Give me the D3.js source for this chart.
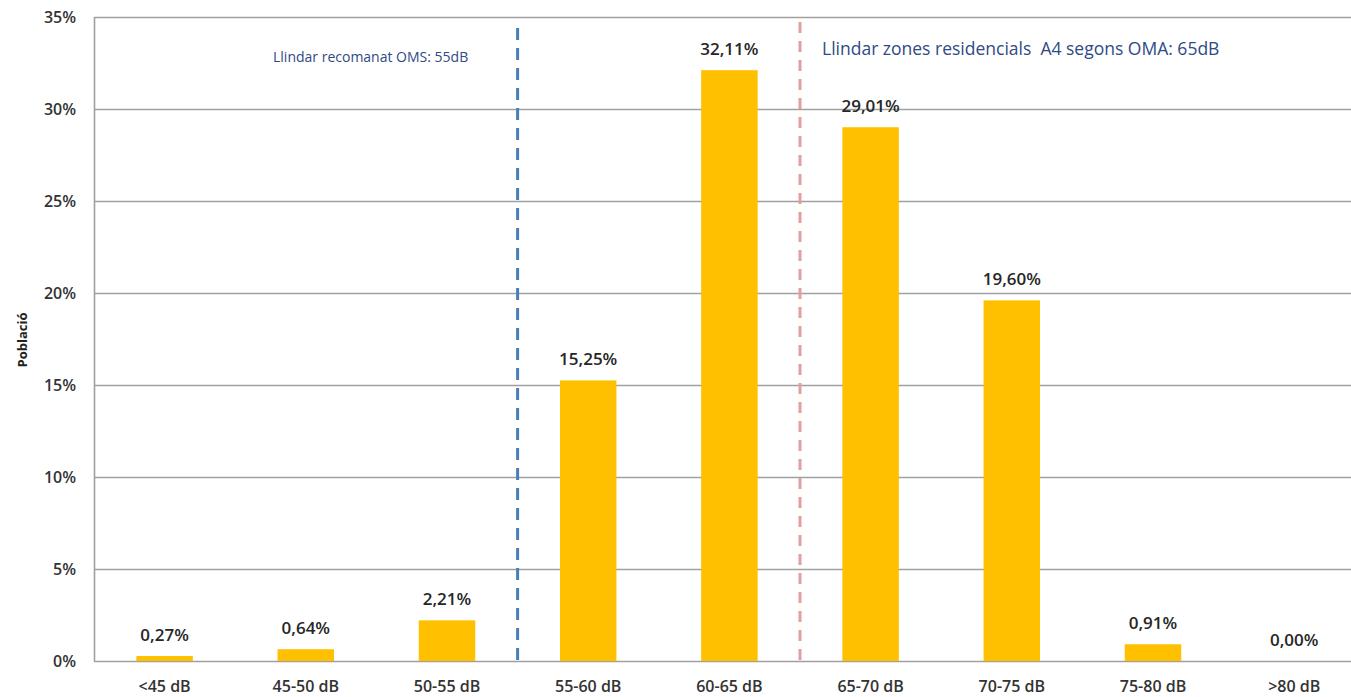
<!DOCTYPE html>
<html>
<head>
<meta charset="utf-8">
<script src="https://cdn.jsdelivr.net/npm/d3@7"></script>
<style>
  body { margin: 0; background: #fff; }
  svg { display: block; font-family: "Open Sans", "Liberation Sans", sans-serif; }
</style>
</head>
<body>
<svg id="svg" width="1351" height="697"></svg>
<script>
// categories and values (% of population)
var categories = ["<45 dB", "45-50 dB", "50-55 dB", "55-60 dB", "60-65 dB", "65-70 dB", "70-75 dB", "75-80 dB", ">80 dB"];
var values = [0.27, 0.64, 2.21, 15.25, 32.11, 29.01, 19.60, 0.91, 0.00];
var yTicks = [0, 5, 10, 15, 20, 25, 30, 35];
var thresholds = [
  { after: "50-55 dB", color: "#4a7ebb", text: "Llindar recomanat OMS: 55dB", size: 14, tx: 273, ty: 62, top: 28, dash: "12,8" },
  { after: "60-65 dB", color: "#e0a0a0", text: "Llindar zones residencials  A4 segons OMA: 65dB", size: 17.5, tx: 822, ty: 55, top: 22, dash: "11,8" }
];

var svg = d3.select('#svg');
var padding = { top: 17, left: 94, bottom: 36 };
var step = 141.2;
var chartArea = {
  width: step * categories.length,
  height: 697 - padding.top - padding.bottom
};

var xScale = d3.scaleBand()
  .domain(categories)
  .range([0, chartArea.width])
  .paddingInner(0.6)
  .paddingOuter(0.3);

var yScale = d3.scaleLinear()
  .domain([0, 35])
  .range([chartArea.height, 0]);

var g = svg.append("g")
  .attr('transform', 'translate(' + padding.left + ',' + padding.top + ')');

// gridlines
g.append("g").selectAll("line").data(yTicks).enter()
  .append("line")
  .attr("x1", 0)
  .attr("x2", 1351)
  .attr("y1", function(d) { return Math.round(yScale(d)) + 0.5; })
  .attr("y2", function(d) { return Math.round(yScale(d)) + 0.5; })
  .attr("stroke", "#a0a0a0")
  .attr("stroke-width", 1.6);

// left axis line
g.append("line")
  .attr("x1", 0.5).attr("x2", 0.5)
  .attr("y1", 0).attr("y2", chartArea.height + 0.5)
  .attr("stroke", "#a0a0a0")
  .attr("stroke-width", 1.6);

// y tick labels
var yAxis = d3.axisLeft(yScale)
  .tickValues(yTicks)
  .tickSize(0)
  .tickPadding(18)
  .tickFormat(function(d) { return d + "%"; });
var yG = g.append("g").call(yAxis);
yG.select(".domain").remove();
yG.selectAll("text")
  .attr("font-size", 16)
  .attr("font-weight", 600)
  .attr("fill", "#333")
  .attr("font-family", "'Open Sans', sans-serif");

// x tick labels
var xAxis = d3.axisBottom(xScale).tickSize(0).tickPadding(20);
var xG = g.append("g")
  .attr("transform", "translate(0," + chartArea.height + ")")
  .call(xAxis);
xG.select(".domain").remove();
xG.selectAll("text")
  .attr("font-size", 16)
  .attr("font-weight", 600)
  .attr("fill", "#333")
  .attr("font-family", "'Open Sans', sans-serif");

// bars
g.append("g").selectAll("rect").data(values).enter()
  .append("rect")
  .attr("x", function(d, i) { return xScale(categories[i]); })
  .attr("y", function(d) { return yScale(d); })
  .attr("width", xScale.bandwidth())
  .attr("height", function(d) { return chartArea.height - yScale(d); })
  .attr("fill", "#ffc000");

// value labels
g.append("g").selectAll("text").data(values).enter()
  .append("text")
  .attr("x", function(d, i) { return xScale(categories[i]) + xScale.bandwidth() / 2; })
  .attr("y", function(d) { return yScale(d) - 15; })
  .attr("text-anchor", "middle")
  .attr("font-size", 17)
  .attr("font-weight", 600)
  .attr("fill", "#262626")
  .text(function(d) { return d.toFixed(2).replace(".", ",") + "%"; });

// threshold lines
thresholds.forEach(function(t) {
  var x = xScale(t.after) + xScale.bandwidth() + xScale.step() * xScale.paddingInner() / 2;
  g.append("line")
    .attr("x1", x).attr("x2", x)
    .attr("y1", t.top - padding.top).attr("y2", chartArea.height)
    .attr("stroke", t.color)
    .attr("stroke-width", 3)
    .attr("stroke-dasharray", t.dash);
  svg.append("text")
    .attr("x", t.tx)
    .attr("y", t.ty)
    .attr("font-size", t.size)
    .attr("fill", "#2f4a84")
    .style("white-space", "pre")
    .text(t.text);
});

// y axis title
svg.append("text")
  .attr("transform", "translate(27,340) rotate(-90)")
  .attr("text-anchor", "middle")
  .attr("font-size", 13)
  .attr("font-weight", 700)
  .attr("fill", "#222")
  .text("Població");
</script>
</body>
</html>
